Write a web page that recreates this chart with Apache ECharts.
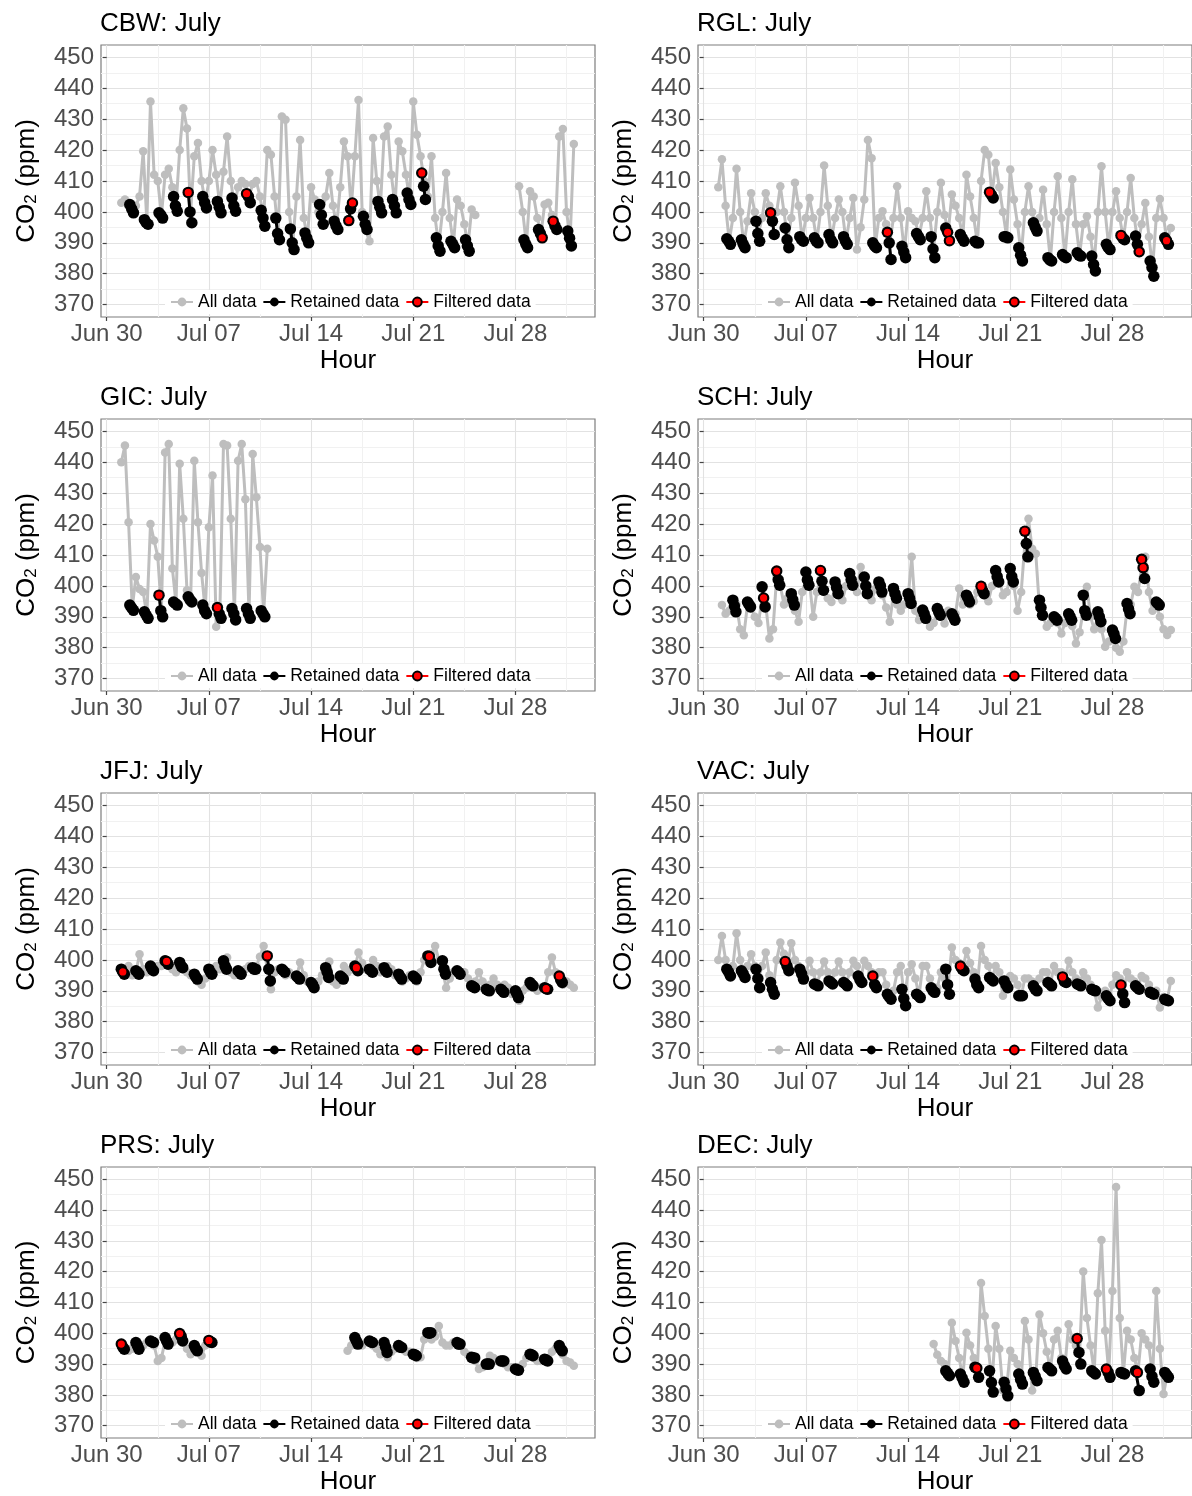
<!DOCTYPE html>
<html>
<head>
<meta charset="utf-8">
<script src="https://cdn.jsdelivr.net/npm/echarts@6/dist/echarts.min.js"></script>
<style>
  html, body { margin: 0; padding: 0; background: #ffffff; }
  #chart { width: 1192px; height: 1496px; }
</style>
</head>
<body>
<div id="chart"></div>
<script>
// ---- axis definitions (x in days since Jun 30 00:00) ----
const monthLabel = 'July';
const stationNames = ['CBW', 'RGL', 'GIC', 'SCH', 'JFJ', 'VAC', 'PRS', 'DEC'];
const xTickDays = [0, 7, 14, 21, 28];
const xTickLabels = ['Jun 30', 'Jul 07', 'Jul 14', 'Jul 21', 'Jul 28'];
const xBreakDays = [0, 3.5, 7, 10.5, 14, 17.5, 21, 24.5, 28, 31.5];
const yTickValues = [370, 380, 390, 400, 410, 420, 430, 440, 450];
const yBreakValues = [370, 375, 380, 385, 390, 395, 400, 405, 410, 415, 420, 425, 430, 435, 440, 445, 450];
const seriesNames = ['All data', 'Retained data', 'Filtered data'];

// hours of the retained samples inside each selected day
const daytimeHours = [14, 17, 20];
const nighttimeHours = [0, 2.5, 5];

// ---- CBW ----  all data: 6-hourly from Jul 1 00:00
const cbwAllStart = 1;
const cbwAll = [
  403, 404, 402, 401,   402, 405, 419.6, 397,   435.7, 412, 410, 399,   412, 414, 408, 402,
  420, 433.5, 427, 400, 418, 422.3, 410, 403,   410, 420, 412, 402,     413, 424.4, 410, 402,
  408, 410, 409, 405,   409, 410, 405, 398,     420, 418.5, 405, 393,   430.9, 429.8, 400, 390,
  405, 423.3, 398, 391.5, 408, 404, 400, 399,   405, 412.6, 402, 395.5, 408, 422.8, 418, 401,
  418, 436.2, 400, 394, 390.5, 423.9, 410, 401.5, 424.4, 427.6, 412, 402, 422.8, 419.6, 412, 404,
  435.7, 425, 418, 410, 405, 418, 398, 389,     400, 412.6, 398, 389.5, 404, 402, 396, 389,
  400.8, 399, null, null, null, null, null, null, null, null, null, null, null, 408.3, 400, 389.5,
  406.7, 405, 398, 393, 402.4, 403, 399, 395.5, 424.4, 426.8, 400, 391.5, 422
];
const cbwRetStart = 1;
const cbwRet = [
  [402.4, 401, 399.7], [397.5, 396.5, 396], [399.7, 399, 398], [405, 402, 400.2],
  [406.3, 400, 396.5], [405, 403, 401.3], [403.4, 401.5, 399.7], [404.5, 402, 400.2],
  [405.9, 405, 403], [400.5, 398, 395.4], [398, 393, 391], [394.5, 390, 387.8],
  [393.2, 391.5, 390], [402.4, 399, 396], [397, 395.5, 394.3], [397.2, 401, 402.9],
  [398.6, 396, 394.3], [403.4, 401.5, 399.7], [404, 402, 399.7], [406.1, 404, 402.4],
  [412.6, 408.3, 404], [391.6, 389, 387.3], [390.5, 389.5, 388.4], [391, 389, 387.3],
  null, null, null,
  [391, 389.5, 388.4], [394.3, 393, 391.6], [397, 395.5, 394.3], [393.8, 391.5, 389]
];
const cbwFilt = [[5, 14, 406.3], [9, 14, 405.9], [16, 14, 397.2], [16, 20, 402.9], [21, 14, 412.6], [29, 20, 391.6], [30, 14, 397]];

// ---- RGL ----
const rglAllStart = 1;
const rglAll = [
  408, 417, 402, 390.5,  398, 414, 400, 389.5,  397, 406, 400, 393,    398, 406, 402, 397,
  400, 408.3, 400, 391,  398, 409.4, 402, 391,  398, 404.5, 398, 390.5, 400, 415, 402, 391,
  398, 404, 400, 390.5,  398, 404.5, 387.8, 395, 404, 423.3, 417.4, 389, 398, 400.2, 396, 390,
  398, 408.3, 398, 387,  400.2, 398, 397, 392,  398, 406.7, 398, 388,  400, 409.4, 399, 393.4,
  405.6, 402, 398, 391.5, 412, 405, 398, 390,   410, 420, 418.5, 405.5, 415.8, 408, 400, 392,
  413.7, 404, 396, 386,  400, 408.3, 400, 395,  398, 407.2, 396, 384.5, 400, 411.5, 398, 385.5,
  400, 410.6, 396, 386,  396, 398.6, 392, 383,  400, 414.8, 400, 388.5, 400, 406.7, 398, 391.5,
  400, 411, 398, 389.5,  396, 402.9, 392, 382,  398, 404.2, 398, 390.7, 394.8
];
const rglRetStart = 1;
const rglRet = [
  [391.3, 390.5, 389.5], [391, 389.5, 388.4], [397, 393, 390.5], [399.7, 397, 392.7],
  [394.8, 391, 388.4], [392, 391, 390.5], [391.6, 390.5, 390], [392.7, 391, 390],
  [392, 390.5, 389.5], null, [390, 389, 388.4], [393.4, 390, 384.6],
  [388.9, 387, 385.2], [393, 392, 391], [392, 388, 385.2], [394.8, 393.4, 390.7],
  [392.7, 391.5, 390.5], [390.5, 390, 390], [406.4, 405.5, 404.5], [392, 392, 391.6],
  [388.4, 386, 384.1], [396.5, 395, 393.8], [385.2, 384.5, 384.1], [386.2, 385.5, 385.2],
  [386.8, 386, 385.7], [385.7, 383, 380.9], [389.5, 388.5, 387.8], [392.4, 391.5, 391],
  [392.2, 389.5, 387.1], [384.1, 382, 379.2], [391.6, 390.7, 389.5]
];
const rglFilt = [[4, 14, 399.7], [12, 14, 393.4], [16, 17, 393.4], [16, 20, 390.7], [19, 14, 406.4], [28, 14, 392.4], [29, 20, 387.1], [31, 17, 390.7]];

// ---- GIC ----
const gicAllStart = 1;
const gicAll = [
  440, 445.4, 420.6, 392.9,  402.9, 399, 398, 390.5,  420, 414.7, 409.4, 392,  443.2, 445.9, 405.6, 394.3,
  439.5, 421.7, 398.6, 395.5, 440.5, 420.6, 404.2, 392, 419, 435.7, 386.8, 391, 445.9, 445.4, 421.7, 391,
  440.5, 445.9, 428, 391,    442.7, 428.7, 412.6, 391, 412
];
const gicRetStart = 1;
const gicRet = [
  [393.8, 392.9, 392.1], [391.6, 390.5, 389.5], [397, 392, 390], [394.8, 394.3, 393.8],
  [396.5, 395.5, 394.8], [393.8, 392, 391], [393, 391, 389.5], [392.7, 391, 389],
  [392.7, 391, 389.5], [392, 391, 390]
];
const gicFilt = [[3, 14, 397], [7, 14, 393]];

// ---- SCH ----
const schAllStart = 1;
const schAll = [
  null, 393.8, 391, 392,  393, 394, 386, 384,     394, 393, 390, 388,     396, 394, 383, 386,
  403, 400, 394, 396,     395, 392, 388.4, 398,   402, 401, 390, 398,     402, 398, 396, 394.8,
  399.5, 399, 395.4, 400, 402, 400, 398, 406.1,   400, 398, 395.4, 399,   400, 397, 393, 388.4,
  397.5, 394, 392, 394,   396, 409.4, 392, 389,   391, 389, 386.8, 388,   391.5, 390, 387.8, 392,
  390, 391, 399.2, 394,   396, 394, 395, 398,     398.5, 397, 395, 400,   403, 402, 397, 398,
  403, 400, 392, 398,     413.7, 421.7, 412, 410.4, 393, 390, 386.8, 388, 389.5, 388, 384.6, 388,
  390, 387, 381.4, 385,   392, 399.7, 390, 386,   390, 386, 380.3, 382,   384.5, 380, 378.7, 382,
  392.5, 394, 399.7, 398, 405.9, 409.4, 398, 392, 394.3, 390, 386, 384.1, 385.7
];
const schRetStart = 1;
const schRet = [
  null, [395.4, 393.5, 391.6], [394.8, 394, 393.2], [399.7, 396.1, 393.2],
  [404.8, 402, 400.2], [397.5, 395.5, 393.8], [404.5, 402, 400.2], [405, 401.5, 398.6],
  [401.3, 399.5, 397.5], [404, 402, 400.2], [402.9, 400, 397.5], [401.3, 400, 398],
  [399.2, 397.5, 396], [397.5, 396, 394.3], [392.2, 391, 389.5], [392.7, 391.5, 390.5],
  [391, 390, 388.9], [397, 396, 394.8], [399.9, 398.5, 397.5], [405, 403, 401.3],
  [405.6, 403, 401.3], [417.7, 413.7, 409.4], [395.4, 393, 390.5], [390, 389.5, 388.9],
  [391, 390, 388.9], [397, 392, 390.5], [391.6, 390, 388.4], [385.7, 384.5, 383],
  [394.3, 392.5, 391], [408.6, 405.9, 402.4], [394.8, 394.3, 393.8]
];
const schFilt = [[4, 2.5, 396.1], [5, 0, 404.8], [8, 0, 405], [19, 0, 399.9], [22, 0, 417.7], [30, 0, 408.6], [30, 2.5, 405.9]];

// ---- JFJ ----
const jfjAllStart = 1;
const jfjAll = [
  397, 396, 398, 395,     396, 401.8, 397, 396,   397, 396, 398, 398,     399.5, 398, 397, 396,
  398, 397, 396, 395,     394.5, 393, 392, 394,   396, 397, 398, 397,     398, 400.8, 396, 395,
  396, 395, 397, 398,     397, 398, 401, 404.5,   397, 390.5, 396, 397,   396.5, 395, 396, 395,
  394.3, 399.2, 395, 393, 392, 391, 393, 395,     396, 399.5, 393, 392,   394.3, 398, 396, 397,
  397.5, 402.4, 399, 397, 396.5, 400, 398, 396,   396.5, 398, 397, 395,   394.5, 393, 394, 395,
  394.3, 393, 396, 400,   401.1, 402, 404.5, 400, 397, 391, 394, 396,     396, 395, 396, 394,
  391.3, 393, 396, 393,   390.2, 392, 394, 392,   390, 392, 391, 389,     389, 386.8, 390, 391,
  392, 391, 390, 391,     390.7, 396, 400.8, 396, 393.5, 392, 393, 392,   391
];
const jfjRetStart = 1;
const jfjRet = [
  [397, 396.1, 395.4], [396.5, 396, 395.4], [398, 397, 396.5], [399.7, 399.5, 398.6],
  [399.2, 398, 397.5], [395.4, 394.5, 393.8], [397, 396, 395.4], [399.7, 398, 397],
  [396.5, 396, 395.4], [397.5, 397, 397], [401.3, 397, 393.2], [397, 396.5, 396],
  [394.8, 394.3, 393.8], [392.7, 392, 391], [397.5, 396, 394.3], [394.8, 394.3, 393.8],
  [398, 397.5, 396.5], [397, 396.5, 396], [397.5, 396.5, 396], [395.4, 394.5, 393.8],
  [394.8, 394.3, 393.8], [401.3, 401.1, 399.2], [399.7, 397, 395.4], [396.5, 396, 395.4],
  [391.6, 391.3, 391], [390.5, 390.2, 390], [390.5, 390, 389.5], [390, 389, 387.8],
  [392.7, 392, 391.6], [391, 390.7, 390.5], [394.8, 393.5, 392.7]
];
const jfjFilt = [[1, 2.5, 396.1], [4, 2.5, 399.5], [11, 0, 401.3], [17, 2.5, 397.5], [22, 2.5, 401.1], [30, 2.5, 390.7], [31, 0, 394.8]];

// ---- VAC ----
const vacAllStart = 1;
const vacAll = [
  400, 407.7, 400, 396,   398, 408.6, 400, 395.5, 398, 401.8, 398, 394,   398, 402.4, 395, 390.5,
  400, 405.6, 402, 398,   405.4, 400, 398, 395.5, 396, 399.7, 396, 392,   396, 399.5, 396, 392.7,
  396, 399.5, 396, 392.2, 396, 399.7, 398, 393.5, 399.7, 398, 396, 392,   396, 396, 392, 388,
  390, 396, 398, 387.5,   396, 398.6, 394, 388.4, 398, 398, 394, 390,     391, 396, 394, 392,
  404, 400, 399, 397,     402.9, 399, 396, 392,   404.5, 400, 398, 393.8, 398, 396, 388.4, 392,
  394.8, 394, 392, 388.4, 394, 394, 393, 390.5,   394, 396, 396, 392.2,   398, 396, 396, 393,
  399.7, 396, 394, 392,   396, 394, 392, 390.2,   384.6, 388, 390, 387.5, 392, 395, 394, 389,
  396, 394, 393, 391,     394.8, 394, 392, 389.2, 390, 384.6, 388, 387,   393.2
];
const vacRetStart = 1;
const vacRet = [
  [397, 396, 394.8], [396.5, 395.5, 394.3], [397, 394, 391], [392.7, 390.5, 388.9],
  [399.5, 398, 396.5], [397, 395.5, 393.8], [392.2, 392, 391.6], [393.2, 392.7, 392.2],
  [392.7, 392.2, 391.6], [394.8, 393.5, 392.7], [394.8, 392, 391], [388.9, 388, 387.3],
  [390.5, 387.5, 385.2], [388.9, 388.4, 387.8], [391, 390, 389.5], [397, 392, 388.9],
  [398, 397, 396.5], [393.8, 392, 391], [394.3, 393.8, 393.2], [393.2, 392, 391],
  [388.4, 388.4, 388.4], [391.6, 390.5, 390], [392.7, 392.2, 391.6], [394.5, 393, 392.7],
  [392.2, 392, 391.6], [390.5, 390.2, 390], [388.4, 387.5, 386.8], [391.9, 389, 386.2],
  [391.6, 391, 390.5], [389.5, 389.2, 388.9], [387.3, 387, 386.8]
];
const vacFilt = [[5, 14, 399.5], [11, 14, 394.8], [17, 14, 398], [24, 14, 394.5], [28, 14, 391.9]];

// ---- PRS ----
const prsAllStart = 1;
const prsAll = [
  396, 395, 394.3, 395,   396, 395, 396, 397,     397.2, 396, 391, 392,   397.5, 396, 397, 398,
  399, 398, 395, 393.2,   395, 394, 392.7, 396,   397.2, 397.5, null, null,
  null, null, null, null, null, null, null, null, null, null, null, null, null, null, null, null,
  null, null, null, null, null, null, null, null, null, null, null, null, null, null, null, null,
  null, null, 394.3, 396,
  397.5, 397, 396, 397,   397.2, 396, 395, 393.2, 395.5, 392.2, 394, 395, 395.5, 395, 394, 394,
  393, 392, 392.2, 398,   400, 398, 399, 402.4,   397, 396, 396, 397,     396.5, 396, 394, 393,
  392, 391, 388.4, 389,   390, 392.7, 392, 391,   391, 390, 389, 389,     388.2, 389, 390, 392,
  393, 392, 391, 391,     391.3, 392, 394, 395,   395, 393, 391, 390.5,   389.5
];
const prsRetStart = 1;
const prsRet = [
  [396.5, 395.5, 394.8], [397, 396, 394.8], [397.5, 397.2, 397], [398.6, 397.5, 396.5],
  [399.9, 399, 397.5], [396, 395, 394.3], [397.7, 397.2, 397],
  null, null, null, null, null, null, null, null, null,
  [398.6, 397.5, 396.5], [397.5, 397.2, 397], [397, 395.5, 393.8], [396, 395.5, 395.4],
  [393.2, 393, 392.7], [400.2, 400, 400.2], null, [397, 396.5, 396.5],
  [392.2, 392, 392], [390, 390, 390], [391, 391, 391], [388.4, 388.2, 388],
  [393.2, 393, 392.7], [391.6, 391.3, 391], [396, 395, 394.3]
];
const prsFilt = [[1, 0, 396.5], [5, 0, 399.9], [7, 0, 397.7]];

// ---- DEC ----
const decAllStart = 15.75;
const decAll = [
  396.5,
  393, 391, 390, 387,     403.4, 397.5, 392, 385.5, 400.2, 396, 392, 388.7, 416.3, 405.6, 395, 384,
  402.4, 395, 381.4, 382, 394.3, 392, 390, 385,   404, 398, 381.4, 386,   406.1, 400, 394, 388.4,
  398, 400.8, 392, 389.5, 402.9, 398, 396, 393.8, 420.1, 405, 396, 387.3, 413, 430.3, 400.8, 387.3,
  413.7, 447.5, 405, 387, 400.8, 398, 392, 387.3, 400, 398, 396, 386,     413.7, 395, 380.3, 386.5
];
const decRetStart = 16;
const decRet = [
  [387.8, 387, 386.2], [386.8, 385.5, 384.1], [389, 388.7, 385.7], [387.8, 384, 380.9],
  [384.1, 382, 379.7], [386.8, 385, 383.5], [387.3, 386, 384.6], [388.9, 388.4, 387.8],
  [391, 389.5, 388.4], [398.3, 393.8, 390], [387.8, 387.3, 386.8], [388.4, 387.3, 385.7],
  [387.3, 387, 386.8], [387.8, 387.3, 381.4], [388.4, 386, 384.1], [387.3, 386.5, 385.7]
];
const decFilt = [[18, 17, 388.7], [25, 14, 398.3], [27, 14, 388.4], [29, 17, 387.3]];

// ---- panel assembly ----
const panels = [
  { all: cbwAll, allStart: cbwAllStart, ret: cbwRet, retStart: cbwRetStart, hours: daytimeHours, filt: cbwFilt },
  { all: rglAll, allStart: rglAllStart, ret: rglRet, retStart: rglRetStart, hours: daytimeHours, filt: rglFilt },
  { all: gicAll, allStart: gicAllStart, ret: gicRet, retStart: gicRetStart, hours: daytimeHours, filt: gicFilt },
  { all: schAll, allStart: schAllStart, ret: schRet, retStart: schRetStart, hours: nighttimeHours, filt: schFilt },
  { all: jfjAll, allStart: jfjAllStart, ret: jfjRet, retStart: jfjRetStart, hours: nighttimeHours, filt: jfjFilt },
  { all: vacAll, allStart: vacAllStart, ret: vacRet, retStart: vacRetStart, hours: daytimeHours, filt: vacFilt },
  { all: prsAll, allStart: prsAllStart, ret: prsRet, retStart: prsRetStart, hours: nighttimeHours, filt: prsFilt },
  { all: decAll, allStart: decAllStart, ret: decRet, retStart: decRetStart, hours: daytimeHours, filt: decFilt }
];

const GAP = '-';
function allPoints(start, values) {
  return values.map((v, i) => [start + i * 0.25, v === null ? GAP : v]);
}
function retainedPoints(start, triples, hours) {
  const pts = [];
  triples.forEach((t, i) => {
    if (!t) return;
    const day = start + i;
    t.forEach((v, k) => pts.push([day + hours[k] / 24, v]));
    pts.push([day + (hours[2] + 1) / 24, GAP]);
  });
  return pts;
}
function filteredPoints(list) {
  const pts = [];
  list.forEach(([day, hour, v]) => {
    pts.push([day + hour / 24, v]);
    pts.push([day + (hour + 0.5) / 24, GAP]);
  });
  return pts;
}

const FONT = "'Liberation Sans', Arial, Helvetica, sans-serif";
const colLeft = [101, 698];
const rowTop = [45, 419, 793, 1167];
const plotW = 494, plotH = 272;
const xMin = -0.39, xMax = 33.45;
const yMin = 366, yMax = 454;
const gridColors = ['#E2E2E2', '#F1F1F1'];

const option = {
  animation: false,
  backgroundColor: '#ffffff',
  textStyle: { fontFamily: FONT },
  title: [], grid: [], xAxis: [], yAxis: [], legend: [], series: []
};

panels.forEach((p, g) => {
  const left = colLeft[g % 2];
  const top = rowTop[Math.floor(g / 2)];

  option.title.push({
    text: stationNames[g] + ': ' + monthLabel,
    left: left - 1, top: top - 34, padding: 0,
    textStyle: { fontSize: 26, fontWeight: 'normal', color: '#000', fontFamily: FONT }
  });

  option.grid.push({
    left: left, top: top, width: plotW, height: plotH,
    show: true, borderColor: '#7d7d7d', borderWidth: 1.2, backgroundColor: '#ffffff'
  });

  // main x axis: gridlines + labels + title
  option.xAxis.push({
    gridIndex: g, type: 'value', min: xMin, max: xMax, position: 'bottom',
    axisLine: { show: false },
    axisTick: { show: false, customValues: xBreakDays },
    axisLabel: {
      customValues: xTickDays, margin: 5, fontSize: 24, color: '#4D4D4D', fontFamily: FONT,
      formatter: v => xTickLabels[xTickDays.indexOf(v)]
    },
    splitLine: { show: true, lineStyle: { color: gridColors, width: 1.1 } },
    name: 'Hour', nameLocation: 'middle', nameGap: 31,
    nameTextStyle: { fontSize: 26, color: '#000', fontFamily: FONT }
  });
  // tick marks at labelled dates
  option.xAxis.push({
    gridIndex: g, type: 'value', min: xMin, max: xMax, position: 'bottom',
    axisLine: { show: false },
    axisTick: { show: true, customValues: xTickDays, length: 4, lineStyle: { color: '#444', width: 1.2 } },
    axisLabel: { show: false }, splitLine: { show: false }
  });

  option.yAxis.push({
    gridIndex: g, type: 'value', min: yMin, max: yMax, position: 'left',
    axisLine: { show: false },
    axisTick: { show: false, customValues: yBreakValues },
    axisLabel: { customValues: yTickValues, margin: 7, fontSize: 24, color: '#4D4D4D', fontFamily: FONT },
    splitLine: { show: true, lineStyle: { color: gridColors, width: 1.1 } },
    name: 'CO{sub|2} (ppm)', nameLocation: 'middle', nameGap: 61, nameRotate: 90,
    nameTextStyle: {
      fontSize: 26, color: '#000', fontFamily: FONT,
      rich: { sub: { fontSize: 17, lineHeight: 12, verticalAlign: 'bottom', color: '#000', fontFamily: FONT } }
    }
  });
  option.yAxis.push({
    gridIndex: g, type: 'value', min: yMin, max: yMax, position: 'left',
    axisLine: { show: false },
    axisTick: { show: true, customValues: yTickValues, length: 4, lineStyle: { color: '#444', width: 1.2 } },
    axisLabel: { show: false }, splitLine: { show: false }
  });

  option.legend.push({
    left: left + 64, top: top + 245, orient: 'horizontal',
    itemWidth: 22, itemHeight: 11, itemGap: 6, padding: [3, 5, 3, 5],
    backgroundColor: '#ffffff', selectedMode: false,
    textStyle: { fontSize: 17.5, color: '#000', fontFamily: FONT },
    data: seriesNames
  });

  const axisRef = { xAxisIndex: 2 * g, yAxisIndex: 2 * g };
  option.series.push(Object.assign({
    name: seriesNames[0], type: 'line', z: 2,
    data: allPoints(p.allStart, p.all),
    symbol: 'circle', symbolSize: 8.5, showSymbol: true, connectNulls: false,
    itemStyle: { color: '#BEBEBE' },
    lineStyle: { color: '#BEBEBE', width: 3 }
  }, axisRef));
  option.series.push(Object.assign({
    name: seriesNames[1], type: 'line', z: 3,
    data: retainedPoints(p.retStart, p.ret, p.hours),
    symbol: 'circle', symbolSize: 11.5, showSymbol: true, connectNulls: false,
    itemStyle: { color: '#000000' },
    lineStyle: { color: '#000000', width: 3 }
  }, axisRef));
  option.series.push(Object.assign({
    name: seriesNames[2], type: 'line', z: 4,
    data: filteredPoints(p.filt),
    symbol: 'circle', symbolSize: 8.5, showSymbol: true, connectNulls: false,
    itemStyle: { color: '#FF0000', borderColor: '#000000', borderWidth: 1.3 },
    lineStyle: { color: '#FF0000', width: 3 }
  }, axisRef));
});

const chart = echarts.init(document.getElementById('chart'), null, { renderer: 'canvas' });
chart.setOption(option);
</script>
</body>
</html>
